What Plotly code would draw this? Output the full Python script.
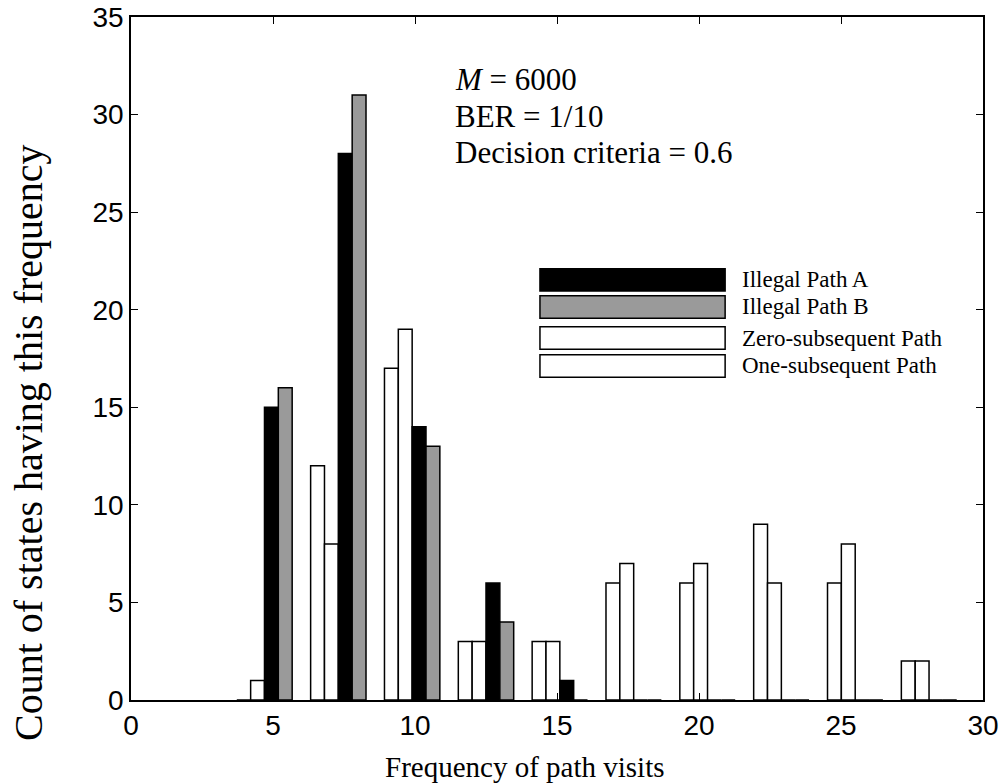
import plotly.graph_objects as go

# ---- data ----
freq_bins = [4.7, 7.3, 9.9, 12.5, 15.1, 17.7, 20.3, 22.9, 25.5, 28.1]
zero_subsequent = [0, 12, 17, 3, 3, 6, 6, 9, 6, 2]
one_subsequent = [1, 8, 19, 3, 3, 7, 7, 6, 8, 2]
illegal_a = [15, 28, 14, 6, 1, 0, 0, 0, 0, 0]
illegal_b = [16, 31, 13, 4, 0, 0, 0, 0, 0, 0]

series_names = ["Zero-subsequent Path", "One-subsequent Path", "Illegal Path A", "Illegal Path B"]
series_values = [zero_subsequent, one_subsequent, illegal_a, illegal_b]
series_colors = ["white", "white", "black", "#9a9a9a"]
legend_order = ["Illegal Path A", "Illegal Path B", "Zero-subsequent Path", "One-subsequent Path"]

info_lines = ["<i>M</i> = 6000", "BER = 1/10", "Decision criteria = 0.6"]

x_ticks = [0, 5, 10, 15, 20, 25, 30]
y_ticks = [0, 5, 10, 15, 20, 25, 30, 35]

SERIF = "Liberation Serif, Times New Roman, serif"
SANS = "Liberation Sans, Arial, sans-serif"

fig = go.Figure()
for name, vals, col in zip(series_names, series_values, series_colors):
    fig.add_trace(go.Bar(
        x=freq_bins, y=vals, name=name,
        marker=dict(color=col, line=dict(color="black", width=1.5)),
        showlegend=False,
    ))

# manual legend with wide swatches (as in the reference)
row_y = [21.53, 20.14, 18.55, 17.12]
sw_x0, sw_x1, sw_h = 14.4, 20.92, 1.15
color_of = dict(zip(series_names, series_colors))
for name, yc in zip(legend_order, row_y):
    fig.add_shape(type="rect", xref="x", yref="y",
                  x0=sw_x0, x1=sw_x1, y0=yc - sw_h / 2, y1=yc + sw_h / 2,
                  fillcolor=color_of[name], line=dict(color="black", width=1.5))
    fig.add_annotation(x=21.45, y=yc, xref="x", yref="y", text=name,
                       showarrow=False, xanchor="left", yanchor="middle",
                       font=dict(family=SERIF, size=23, color="black"))

for line, yc in zip(info_lines, [31.78, 29.88, 28.04]):
    fig.add_annotation(x=11.35, y=yc, xref="x", yref="y", text=line,
                       showarrow=False, xanchor="left", yanchor="middle",
                       font=dict(family=SERIF, size=31, color="black"))

# axis titles placed as in the reference
fig.add_annotation(x=-0.1209, y=0.3777, xref="paper", yref="paper",
                   text="Count of states having this frequency", textangle=-90,
                   showarrow=False, xanchor="center", yanchor="middle",
                   font=dict(family=SERIF, size=40, color="black"))
fig.add_annotation(x=0.4624, y=-0.098, xref="paper", yref="paper",
                   text="Frequency of path visits",
                   showarrow=False, xanchor="center", yanchor="middle",
                   font=dict(family=SERIF, size=29, color="black"))

axis_common = dict(
    showline=True, linecolor="black", linewidth=1.5, mirror="ticks",
    ticks="inside", ticklen=7, tickwidth=1.2, tickcolor="black",
    showgrid=False, zeroline=False, automargin=False,
    ticklabeloverflow="allow",
    tickfont=dict(family=SANS, size=28, color="black"),
)

fig.update_layout(
    width=1004, height=784,
    margin=dict(l=131, r=21, t=17, b=84),
    paper_bgcolor="white", plot_bgcolor="white",
    barmode="group", bargap=0.25, bargroupgap=0,
    xaxis=dict(range=[0, 30], tickvals=x_ticks, **axis_common),
    yaxis=dict(range=[0, 35], tickvals=y_ticks, **axis_common),
)

# remove the browser's default page margin so the figure fills the window
fig.write_html("out.html", config={"displayModeBar": False},
               post_script="document.body.style.margin='0';")
